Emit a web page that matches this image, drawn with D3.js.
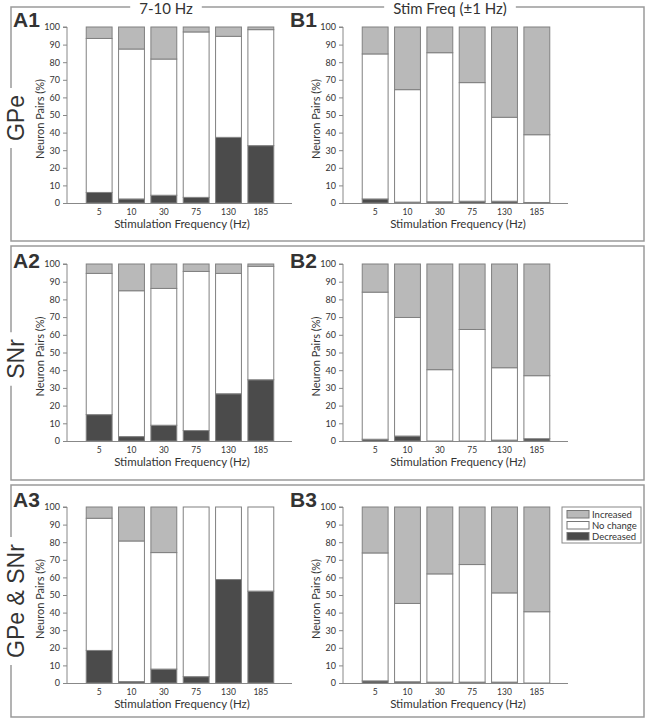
<!DOCTYPE html>
<html>
<head>
<meta charset="utf-8">
<script src="https://cdn.jsdelivr.net/npm/d3@7/dist/d3.min.js"></script>
<style>
  body { margin: 0; background: #fff; }
  text { font-family: Lato, "Open Sans", sans-serif; fill: #333; }
</style>
</head>
<body>
<div id="chart"></div>
<script>
// stimulation frequencies (x categories)
var freqs = ["5", "10", "30", "75", "130", "185"];

// % of neuron pairs decreased / increased, no change is the rest
var decA1 = [6, 2.3, 4.4, 3.2, 37.3, 32.6];
var incA1 = [6.5, 12.5, 18.2, 2.8, 5.3, 1.5];
var decB1 = [2.3, 0.5, 0.7, 1, 1, 0.3];
var incB1 = [15.3, 35.6, 14.6, 31.6, 51.3, 61.2];

var decA2 = [14.9, 2.5, 8.9, 5.9, 26.7, 34.6];
var incA2 = [5.3, 15.1, 13.8, 4.2, 5.3, 1.3];
var decB2 = [1, 2.8, 0, 0, 0.5, 1.3];
var incB2 = [15.9, 30.2, 59.7, 37, 58.6, 63.1];

var decA3 = [18.5, 0.8, 7.9, 3.6, 58.8, 52.2];
var incA3 = [6.4, 19.3, 25.9, 0, 0, 0];
var decB3 = [1.2, 0.7, 0.5, 0.5, 0.5, 0];
var incB3 = [26.1, 54.8, 38, 32.7, 48.8, 59.5];

var yTicks = d3.range(0, 101, 10);
var colTitles = ["7-10 Hz", "Stim Freq (\u00b11 Hz)"];
var rowNames = ["GPe", "SNr", "GPe & SNr"];
var legendNames = ["Increased", "No change", "Decreased"];

var colors = { inc: "#b9b9b9", none: "#ffffff", dec: "#4b4b4b" };
var frameCol = "#9a9a9a";

var svg = d3.select("#chart").append("svg")
  .attr("width", 647).attr("height", 719);

// layout of the three rows
var rows = [
  { name: rowNames[0], boxTop: 7,   boxBottom: 241, top: 27,  bottom: 203, labelY: 27,  nameY: 118 },
  { name: rowNames[1], boxTop: 246, boxBottom: 480, top: 264, bottom: 441, labelY: 268, nameY: 359 },
  { name: rowNames[2], boxTop: 485, boxBottom: 717, top: 507, bottom: 683, labelY: 507, nameY: 601 }
];
var cols = [ { x0: 67, labelX: 13 }, { x0: 343, labelX: 290 } ];
var boxL = 11, boxR = 644;

var panels = [
  { id: "A1", r: 0, c: 0, dec: decA1, inc: incA1 },
  { id: "B1", r: 0, c: 1, dec: decB1, inc: incB1 },
  { id: "A2", r: 1, c: 0, dec: decA2, inc: incA2 },
  { id: "B2", r: 1, c: 1, dec: decB2, inc: incB2 },
  { id: "A3", r: 2, c: 0, dec: decA3, inc: incA3 },
  { id: "B3", r: 2, c: 1, dec: decB3, inc: incB3 }
];

panels.forEach(function (p) {
  var row = rows[p.r], col = cols[p.c];
  var g = svg.append("g");

  var x = d3.scaleBand().domain(freqs)
    .range([col.x0 + 16, col.x0 + 210])
    .paddingInner(0.2).paddingOuter(0.1);
  var y = d3.scaleLinear().domain([0, 100]).range([row.bottom, row.top]);

  var stacks = freqs.map(function (f, i) {
    var d = p.dec[i], inc = p.inc[i];
    return [
      { f: f, y0: 0, y1: d, key: "dec" },
      { f: f, y0: d, y1: 100 - inc, key: "none" },
      { f: f, y0: 100 - inc, y1: 100, key: "inc" }
    ];
  });
  var segs = [].concat.apply([], stacks).filter(function (s) { return s.y1 - s.y0 > 0; });

  g.selectAll("rect.seg").data(segs).enter().append("rect")
    .attr("class", "seg")
    .attr("x", function (d) { return x(d.f); })
    .attr("width", x.bandwidth())
    .attr("y", function (d) { return y(d.y1); })
    .attr("height", function (d) { return y(d.y0) - y(d.y1); })
    .attr("fill", function (d) { return colors[d.key]; })
    .attr("stroke", "#808080")
    .attr("stroke-width", 1);

  // y axis
  var yAxis = d3.axisLeft(y).tickValues(yTicks).tickSize(4).tickPadding(3);
  var ya = g.append("g").attr("transform", "translate(" + col.x0 + ",0)").call(yAxis);
  ya.select(".domain").attr("stroke", "#888").attr("d", "M-4," + row.top + "H0V" + row.bottom);
  ya.selectAll(".tick line").attr("stroke", "#888");
  ya.selectAll(".tick text").style("font-family", "Lato, sans-serif").style("font-size", "9px").attr("fill", "#444");

  // x axis line and labels
  g.append("line")
    .attr("x1", col.x0).attr("x2", col.x0 + 225)
    .attr("y1", row.bottom + 0.5).attr("y2", row.bottom + 0.5)
    .attr("stroke", "#888");
  g.selectAll("text.xt").data(freqs).enter().append("text")
    .attr("class", "xt")
    .attr("x", function (d) { return x(d) + x.bandwidth() / 2; })
    .attr("y", row.bottom + 12)
    .attr("text-anchor", "middle")
    .style("font-size", "8.5px").attr("fill", "#444")
    .text(function (d) { return d; });
  g.append("text")
    .attr("x", col.x0 + 115).attr("y", row.bottom + 25)
    .attr("text-anchor", "middle").style("font-size", "11.5px")
    .text("Stimulation Frequency (Hz)");
  g.append("text")
    .attr("transform", "translate(" + (col.x0 - 23) + "," + ((row.top + row.bottom) / 2 + 4) + ") rotate(-90)")
    .attr("text-anchor", "middle").style("font-size", "11px")
    .text("Neuron Pairs (%)");

  // panel letter
  svg.append("text")
    .attr("x", col.labelX).attr("y", row.labelY)
    .style("font-family", "'Liberation Sans', Arial, sans-serif")
    .style("font-weight", "bold").style("font-size", "21px").attr("fill", "#000")
    .text(p.id);
});

// row frames with gaps for the row names (and column titles on top)
rows.forEach(function (row, i) {
  var nm = svg.append("text")
    .attr("transform", "translate(24," + row.nameY + ") rotate(-90)")
    .attr("text-anchor", "middle")
    .style("font-family", "'Liberation Sans', Arial, sans-serif")
    .style("font-size", "23px").attr("fill", "#222")
    .text(row.name);
  var w = nm.node().getComputedTextLength();
  var gapTop = row.nameY - w / 2 - 7, gapBot = row.nameY + w / 2 + 7;

  var path = d3.path();
  path.moveTo(boxL, gapTop);
  path.lineTo(boxL, row.boxTop);
  if (i === 0) {
    var titleX = [166, 450];
    var gaps = [];
    colTitles.forEach(function (t, j) {
      var tt = svg.append("text")
        .attr("x", titleX[j]).attr("y", row.boxTop + 7)
        .attr("text-anchor", "middle").style("font-size", "15px").attr("fill", "#222")
        .text(t);
      var tw = tt.node().getComputedTextLength();
      gaps.push([titleX[j] - tw / 2 - 9, titleX[j] + tw / 2 + 9]);
    });
    gaps.forEach(function (gp) {
      path.lineTo(gp[0], row.boxTop);
      path.moveTo(gp[1], row.boxTop);
    });
  }
  path.lineTo(boxR, row.boxTop);
  path.lineTo(boxR, row.boxBottom);
  path.lineTo(boxL, row.boxBottom);
  path.lineTo(boxL, gapBot);
  svg.append("path").attr("d", path.toString())
    .attr("fill", "none").attr("stroke", frameCol).attr("stroke-width", 1.5);
});

// legend in B3
var lg = svg.append("g").attr("transform", "translate(562,507)");
lg.append("rect").attr("width", 79).attr("height", 36)
  .attr("fill", "#fff").attr("stroke", "#888").attr("stroke-width", 1);
var legKeys = ["inc", "none", "dec"];
legendNames.forEach(function (n, i) {
  lg.append("rect").attr("x", 5).attr("y", 3.5 + i * 11)
    .attr("width", 22).attr("height", 7.5)
    .attr("fill", colors[legKeys[i]]).attr("stroke", "#777").attr("stroke-width", 1);
  lg.append("text").attr("x", 30).attr("y", 10.5 + i * 11)
    .style("font-size", "9.5px").attr("fill", "#222").text(n);
});
</script>
</body>
</html>
